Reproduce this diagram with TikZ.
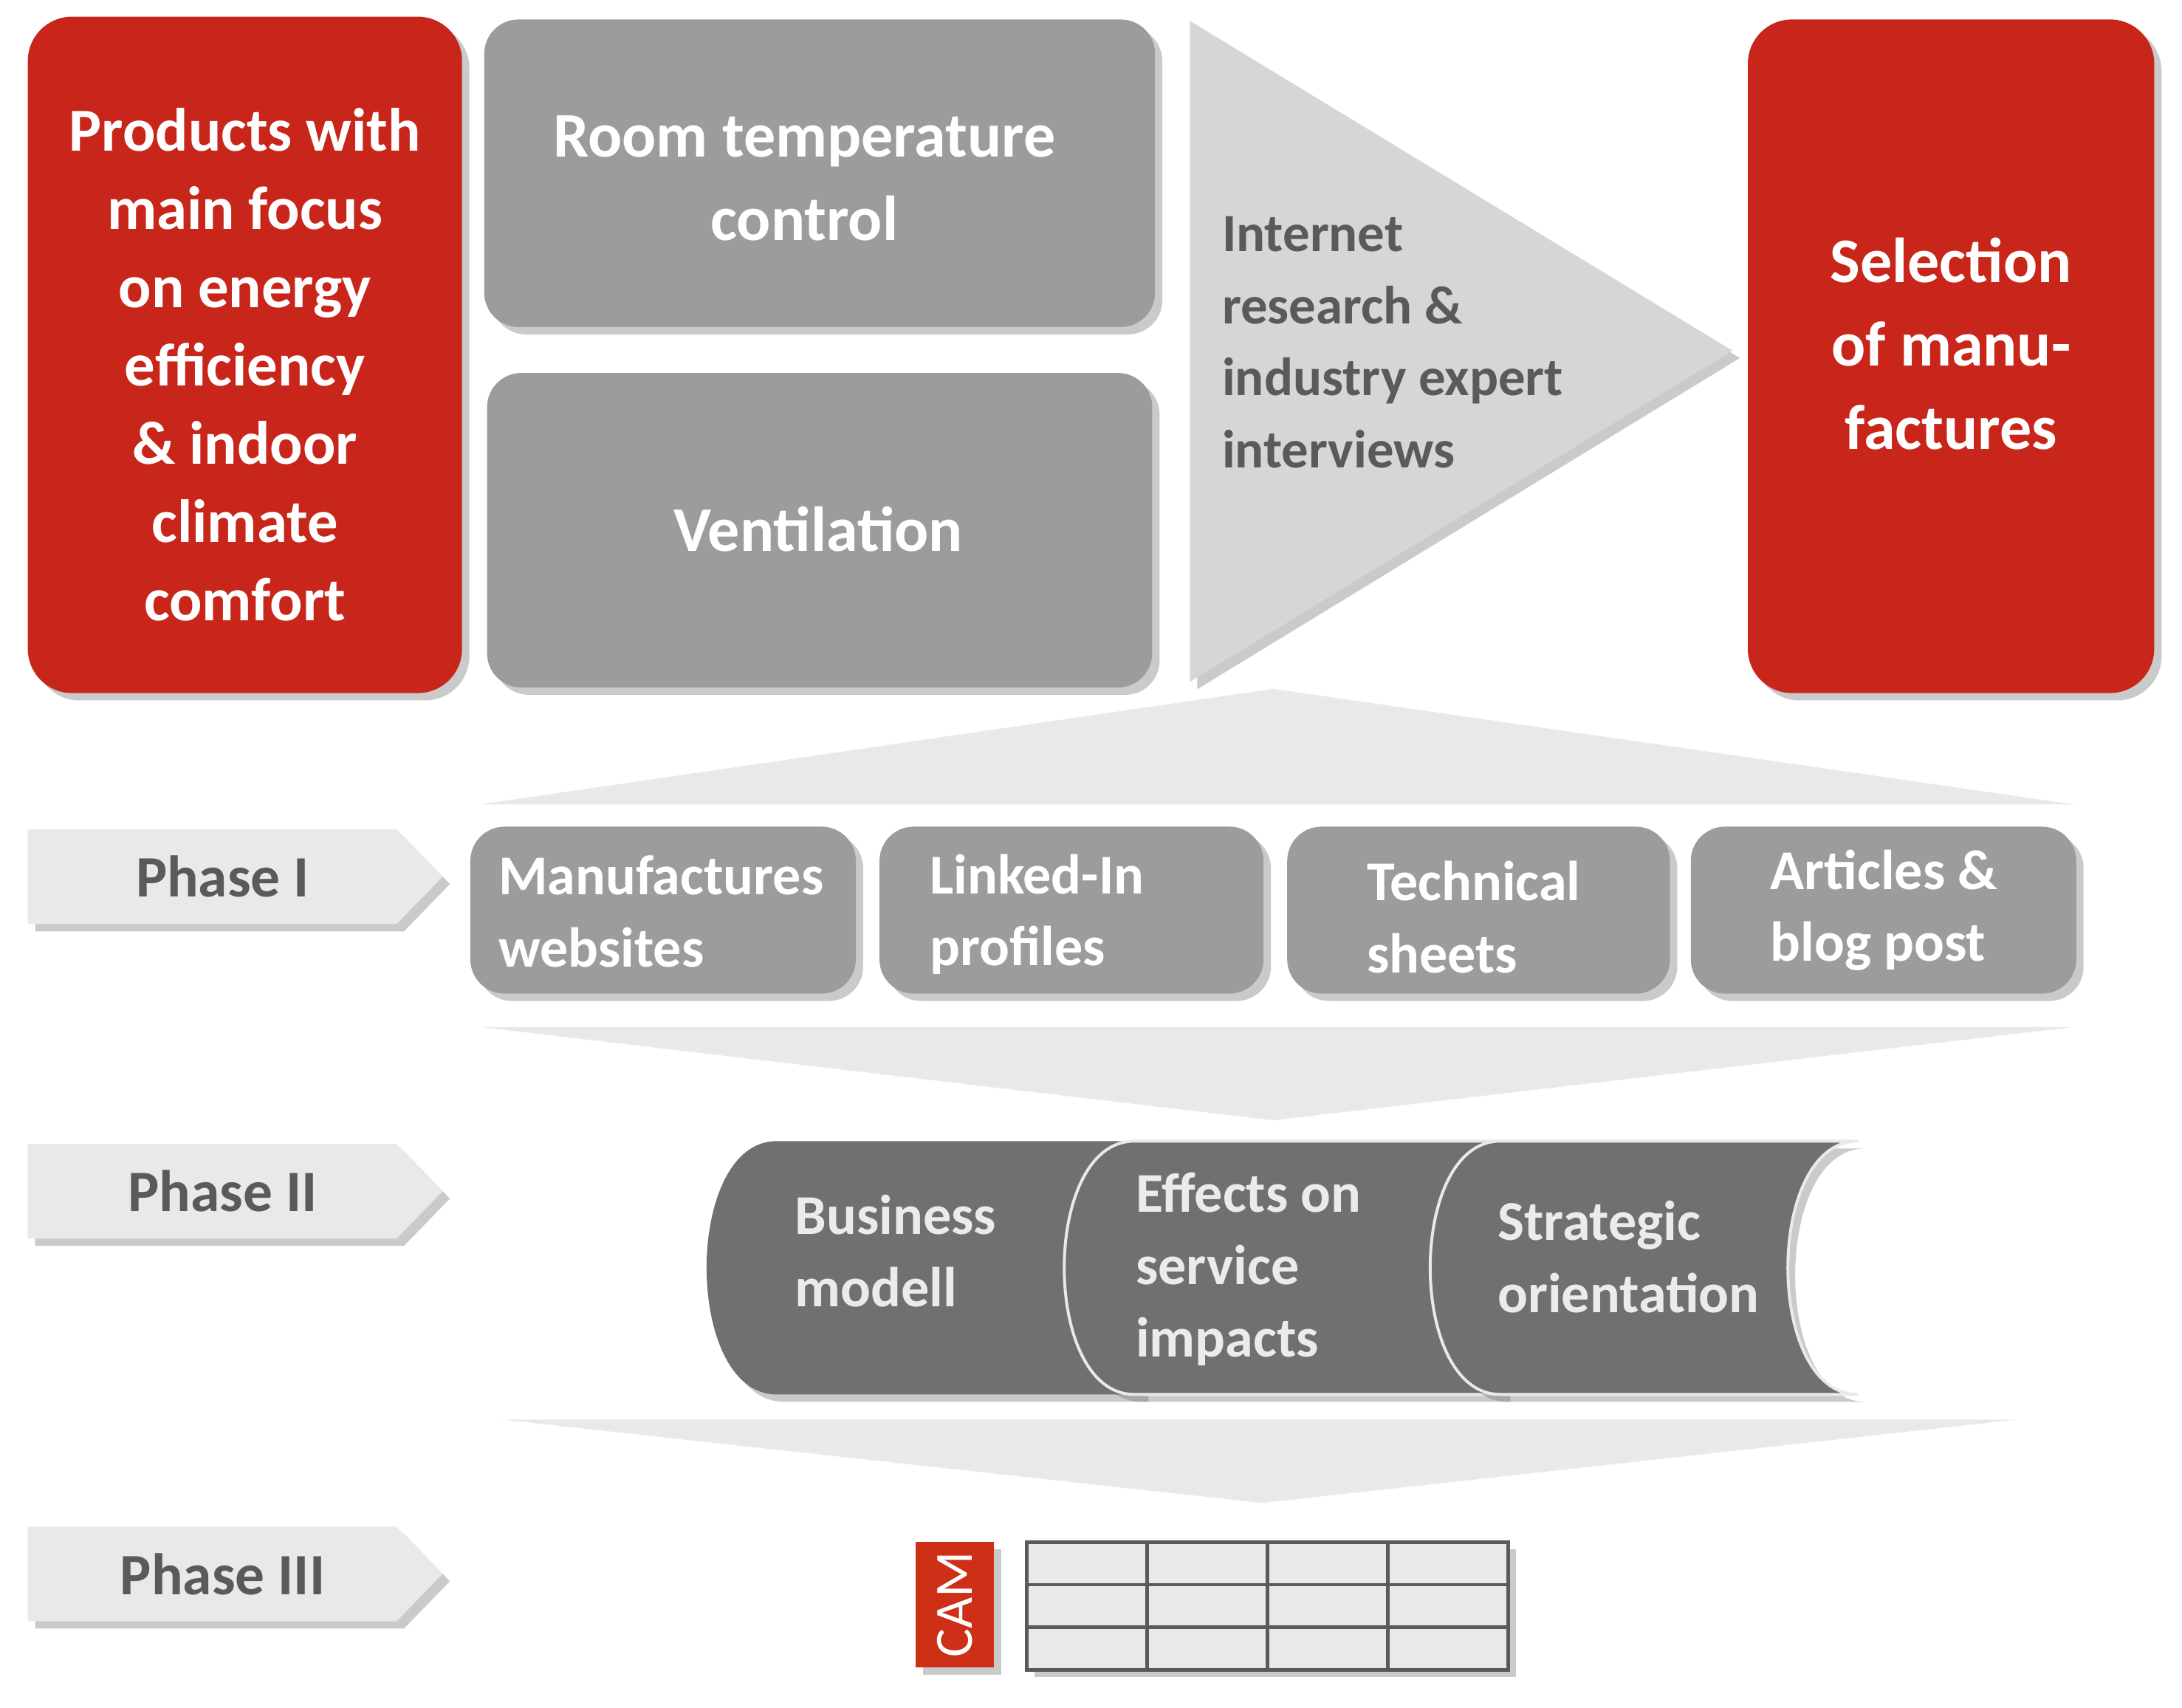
\documentclass[tikz,border=0pt]{standalone}
\usepackage{fontspec}
\setmainfont{Carlito}
\usetikzlibrary{shadows}
\definecolor{myred}{HTML}{C8261A}
\definecolor{mgray}{HTML}{9B9C9E}
\definecolor{lgray}{HTML}{D5D6D7}
\definecolor{vlgray}{HTML}{E8E9EA}
\definecolor{dgray}{HTML}{6F7072}
\definecolor{tgray}{HTML}{595A5C}
\tikzset{
 sh/.style={drop shadow={shadow xshift=3pt,shadow yshift=-3pt,opacity=0.35,fill=black!60}},
 redbox/.style={fill=myred,rounded corners=18pt,sh},
 graybox/.style={fill=mgray,rounded corners=14pt,sh},
 wt/.style={text=white,font=\bfseries\fontsize{25}{32}\selectfont,align=center},
 bt/.style={text=white,font=\bfseries\fontsize{23}{29.5}\selectfont,align=left,anchor=west},
 phase/.style={fill=vlgray,sh},
 pt/.style={text=tgray,font=\bfseries\fontsize{24}{28}\selectfont},
 chev/.style={fill=vlgray},
}
\begin{document}
\begin{tikzpicture}[x=0.02cm,y=-0.02cm]
\useasboundingbox (0,0) rectangle (1568,1227);
% top row
\path[redbox] (20,12) rectangle (332,498);
\node[wt] (prod) at (176,262) {Products with\\main focus\\on energy\\efficiency\\\& indoor\\climate\\comfort};
\path[graybox] (348,14) rectangle (830,235);
\node[wt,font=\bfseries\fontsize{26}{34}\selectfont] (room) at (578,128) {Room temperature\\control};
\path[graybox] (350,268) rectangle (828,494);
\node[wt,font=\bfseries\fontsize{26}{34}\selectfont] (vent) at (588,380) {Ventilation};
\path[fill=lgray,sh] (855,15) -- (1245,252) -- (855,490) -- cycle;
\node[text=tgray,font=\bfseries\fontsize{22}{29.5}\selectfont,align=left,anchor=west] (inet) at (872,246) {Internet\\research \&\\industry expert\\interviews};
\path[redbox] (1256,14) rectangle (1548,498);
\node[wt,font=\bfseries\fontsize{26}{34}\selectfont] (sel) at (1402,247) {Selection\\of manu-\\factures};
% up chevron
\path[chev] (345,578) -- (915,495) -- (1490,578) -- cycle;
% phase labels
\foreach \y/\t/\n in {596/Phase I/p1,822/Phase II/p2,1097/Phase III/p3}{
 \path[phase] (20,\y) -- (285,\y) -- (318,\y+34) -- (285,\y+68) -- (20,\y+68) -- cycle;
 \node[pt] (\n) at (160,\y+34) {\t};
}
% phase I boxes
\path[graybox] (338,594) rectangle (615,714);
\path[graybox] (632,594) rectangle (908,714);
\path[graybox] (925,594) rectangle (1200,714);
\path[graybox] (1215,594) rectangle (1492,714);
\node[bt] (b1) at (352,655) {Manufactures\\websites};
\node[bt] (b2) at (662,657) {Linked-In\\profiles};
\node[bt] (b3) at (976,659) {Technical\\sheets};
\node[bt] (b4) at (1266,654) {Articles \&\\blog post};
% down chevron 1
\path[chev] (345,738) -- (1490,738) -- (915,805) -- cycle;
% phase II scroll
\path[fill=dgray,sh] (558,820) -- (820,820) -- (820,1002) -- (558,1002) .. controls (491,1002) and (491,820) .. (558,820) -- cycle;
\path[fill=dgray,draw=vlgray,line width=1.2pt,sh] (815,820) -- (1080,820) -- (1080,1002) -- (815,1002) .. controls (748,1002) and (748,820) .. (815,820) -- cycle;
\path[fill=dgray,draw=vlgray,line width=1.2pt,sh] (1078,820) -- (1335,820) .. controls (1268,820) and (1268,1002) .. (1335,1002) -- (1078,1002) .. controls (1011,1002) and (1011,820) .. (1078,820) -- cycle;
\node[bt,text=white!92!black] (s1) at (565,899) {Business\\modell};
\node[bt,text=white!92!black] (s2) at (810,912) {Effects on\\service\\impacts};
\node[bt,text=white!92!black] (s3) at (1070,903) {Strategic\\orientation};
% down chevron 2
\path[chev] (360,1020) -- (1450,1020) -- (907,1080) -- cycle;
% CAM
\path[fill=myred!90!orange,sh] (658,1108) rectangle (714,1198);
\node[rotate=90,text=white,font=\fontsize{22}{24}\selectfont] (cam) at (686,1153) {CAM};
\path[fill=vlgray,draw=tgray,line width=1.5pt,sh] (738,1108) rectangle (1084,1200);
\foreach \x in {824.5,911,997.5} \draw[tgray,line width=1.5pt] (\x,1108) -- (\x,1200);
\foreach \y in {1138.7,1169.3} \draw[tgray,line width=1.5pt] (738,\y) -- (1084,\y);
\end{tikzpicture}
\end{document}
